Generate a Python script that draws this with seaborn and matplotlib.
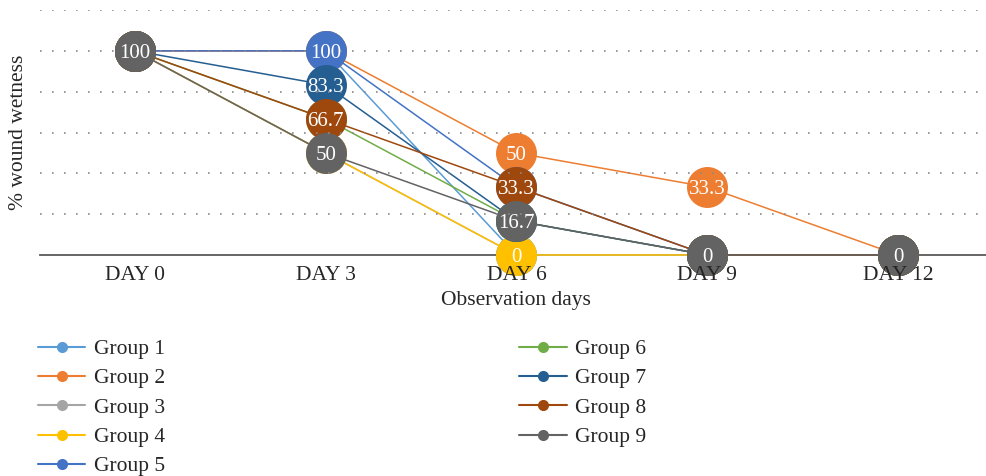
import matplotlib
matplotlib.use("Agg")
import matplotlib.pyplot as plt
from matplotlib.lines import Line2D
import seaborn as sns
import pandas as pd

days = ["DAY 0", "DAY 3", "DAY 6", "DAY 9", "DAY 12"]
groups = ["Group 1", "Group 2", "Group 3", "Group 4", "Group 5",
          "Group 6", "Group 7", "Group 8", "Group 9"]
group_1 = [100, 100, 0, 0, 0]
group_2 = [100, 100, 50, 33.3, 0]
group_3 = [100, 50, 0, 0, 0]
group_4 = [100, 50, 0, 0, 0]
group_5 = [100, 100, 33.3, 0, 0]
group_6 = [100, 66.7, 16.7, 0, 0]
group_7 = [100, 83.3, 16.7, 0, 0]
group_8 = [100, 66.7, 33.3, 0, 0]
group_9 = [100, 50, 16.7, 0, 0]
series = [group_1, group_2, group_3, group_4, group_5,
          group_6, group_7, group_8, group_9]
colors = ["#5B9BD5", "#ED7D31", "#A5A5A5", "#FFC000", "#4472C4",
          "#70AD47", "#255E91", "#9E480E", "#636363"]

rows = []
for g, vals in zip(groups, series):
    for i, (d, v) in enumerate(zip(days, vals)):
        rows.append({"Group": g, "x": i, "Day": d, "Value": v})
df = pd.DataFrame(rows)

sns.set_theme(style="white")
plt.rcParams["font.family"] = ["Liberation Serif", "DejaVu Serif"]
FS = 15.5

fig = plt.figure(figsize=(9.86, 4.76), dpi=100)
ax = fig.add_axes([39.6 / 986, 1 - 255 / 476, (986 - 39.6) / 986, 245 / 476])

palette = dict(zip(groups, colors))
sns.lineplot(data=df, x="x", y="Value", hue="Group", hue_order=groups,
             palette=palette, marker="o", markersize=29.5, markeredgewidth=0,
             linewidth=1.1, sort=False, legend=False, ax=ax, estimator=None)
for ln in ax.lines:
    ln.set_clip_on(False)

# data labels: only the topmost (last drawn) series at each point
for i in range(len(days)):
    seen = {}
    for gi, vals in enumerate(series):
        seen[vals[i]] = gi
    for v, gi in seen.items():
        txt = f"{v:g}"
        ax.text(i, v, txt, ha="center", va="center_baseline", color="white",
                fontsize=FS - 0.5, zorder=5)

ax.set_xlim(-0.5, (986 - 135) / 190.75)
ax.set_ylim(0, 120)
ax.set_xticks(range(len(days)))
ax.set_xticklabels(days, fontsize=FS, color="#262626")
ax.set_yticks([20, 40, 60, 80, 100, 120])
ax.set_yticklabels([])
ax.tick_params(axis="both", length=0)
ax.tick_params(axis="x", pad=8)
ax.set_axisbelow(False)
ax.yaxis.grid(True, color="#8a8a8a", linestyle=(0, (1, 6.2)), linewidth=1.2)
ax.xaxis.grid(False)
for s in ["left", "right", "top"]:
    ax.spines[s].set_visible(False)
ax.spines["bottom"].set_color("#595959")
ax.spines["bottom"].set_linewidth(1.3)
ax.spines["bottom"].set_zorder(1)

ax.set_xlabel("Observation days", fontsize=FS, color="#262626", va="center")
ax.xaxis.set_label_coords((516 - 39.6) / 946.4, (255 - 301) / 245)
ax.set_ylabel("")
fig.text(19 / 986, 1 - 132 / 476, "% wound wetness", rotation=90,
         ha="center", va="center", fontsize=FS, color="#262626")

handles = [Line2D([], [], color=c, marker="o", markersize=8, linewidth=1.5,
                  markeredgewidth=0) for c in colors]
fig.legend(handles, groups, ncol=2, loc="upper left",
           bbox_to_anchor=(38 / 986, 1 - 339 / 476), frameon=False,
           fontsize=FS, handlelength=2.2, handletextpad=0.4,
           columnspacing=16.45, labelspacing=0.43, borderpad=0,
           borderaxespad=0, labelcolor="#262626")

fig.savefig("out.png", dpi=100)
